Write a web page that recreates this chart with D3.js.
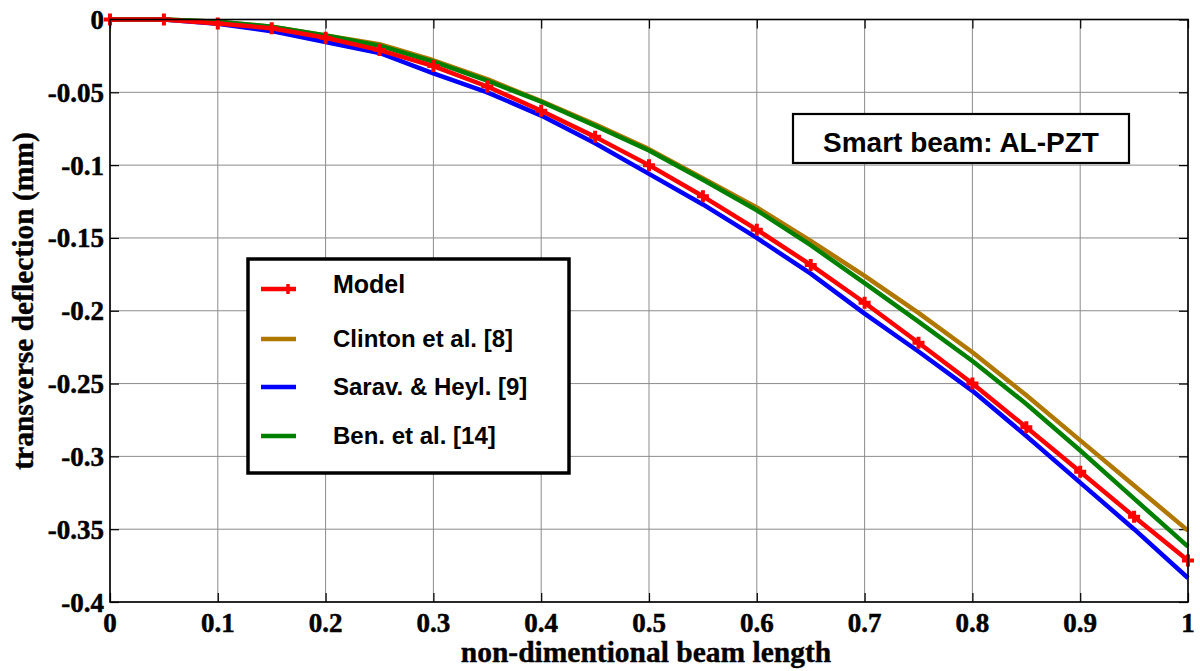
<!DOCTYPE html>
<html>
<head>
<meta charset="utf-8">
<script src="https://cdn.jsdelivr.net/npm/d3@7"></script>
<style>
  html, body { margin: 0; padding: 0; background: #fff; }
  svg { display: block; }
</style>
</head>
<body>
<svg id="chart" width="1200" height="671"></svg>
<script>
// Non-dimensional position along the beam
const beamPos = [0, 0.05, 0.1, 0.15, 0.2, 0.25, 0.3, 0.35, 0.4, 0.45, 0.5,
                 0.55, 0.6, 0.65, 0.7, 0.75, 0.8, 0.85, 0.9, 0.95, 1.0];

// Transverse deflection (mm) for each source
const modelDefl   = [0, 0, -0.0027, -0.006, -0.0125, -0.021, -0.032, -0.046, -0.0627, -0.0806, -0.100,
                     -0.1214, -0.1443, -0.1685, -0.1945, -0.222, -0.250, -0.280, -0.3105, -0.3414, -0.3715];
const clintonDefl = [0, 0, -0.0015, -0.005, -0.011, -0.017, -0.028, -0.041, -0.056, -0.072, -0.089,
                     -0.109, -0.129, -0.152, -0.176, -0.2015, -0.2285, -0.258, -0.289, -0.320, -0.351];
const saravDefl   = [0, 0, -0.003, -0.008, -0.0154, -0.023, -0.037, -0.050, -0.066, -0.085, -0.106,
                     -0.127, -0.150, -0.1745, -0.202, -0.228, -0.2550, -0.286, -0.318, -0.350, -0.3835];
const benDefl     = [0, 0, -0.0015, -0.005, -0.011, -0.018, -0.029, -0.042, -0.0565, -0.073, -0.090,
                     -0.110, -0.131, -0.155, -0.181, -0.2075, -0.2345, -0.264, -0.296, -0.329, -0.362];

const xTicks = [0, 0.1, 0.2, 0.3, 0.4, 0.5, 0.6, 0.7, 0.8, 0.9, 1];
const xTickLabels = ["0", "0.1", "0.2", "0.3", "0.4", "0.5", "0.6", "0.7", "0.8", "0.9", "1"];
const yTicks = [0, -0.05, -0.1, -0.15, -0.2, -0.25, -0.3, -0.35, -0.4];
const yTickLabels = ["0", "-0.05", "-0.1", "-0.15", "-0.2", "-0.25", "-0.3", "-0.35", "-0.4"];

const seriesNames = ["Model", "Clinton et al. [8]", "Sarav. & Heyl. [9]", "Ben. et al. [14]"];
const seriesColors = ["#ff0000", "#b07800", "#0000ff", "#008000"];

const svg = d3.select("#chart");
const plotL = 110, plotR = 1188, plotT = 19.5, plotB = 602;

const x = d3.scaleLinear().domain([0, 1]).range([plotL, plotR]);
const y = d3.scaleLinear().domain([-0.4, 0]).range([plotB, plotT]);

// grid
const grid = svg.append("g").attr("stroke", "#8c8c8c").attr("stroke-width", 1);
xTicks.forEach(t => grid.append("line")
  .attr("x1", x(t)).attr("x2", x(t)).attr("y1", plotT).attr("y2", plotB));
yTicks.forEach(t => grid.append("line")
  .attr("x1", plotL).attr("x2", plotR).attr("y1", y(t)).attr("y2", y(t)));

// inward ticks on all four sides
const tickLen = 9;
const bottomAxis = d3.axisBottom(x).tickValues(xTicks).tickFormat("").tickSizeInner(-tickLen).tickSizeOuter(0);
const topAxis = d3.axisTop(x).tickValues(xTicks).tickFormat("").tickSizeInner(-tickLen).tickSizeOuter(0);
const leftAxis = d3.axisLeft(y).tickValues(yTicks).tickFormat("").tickSizeInner(-tickLen).tickSizeOuter(0);
const rightAxis = d3.axisRight(y).tickValues(yTicks).tickFormat("").tickSizeInner(-tickLen).tickSizeOuter(0);
[[bottomAxis, `translate(0,${plotB})`], [topAxis, `translate(0,${plotT})`],
 [leftAxis, `translate(${plotL},0)`], [rightAxis, `translate(${plotR},0)`]].forEach(([ax, tr]) => {
  const g = svg.append("g").attr("transform", tr).call(ax);
  g.select(".domain").remove();
  g.selectAll(".tick line").attr("stroke", "#000").attr("stroke-width", 1.2);
});

// tick labels
const tickFont = "'Liberation Serif', 'Times New Roman', serif";
svg.append("g").selectAll("text").data(xTicks).join("text")
  .attr("x", d => x(d)).attr("y", 632)
  .attr("text-anchor", "middle")
  .attr("font-family", tickFont).attr("font-weight", "bold").attr("font-size", 27)
  .attr("stroke", "#000").attr("stroke-width", 0.5)
  .text((d, i) => xTickLabels[i]);
svg.append("g").selectAll("text").data(yTicks).join("text")
  .attr("x", 104).attr("y", d => y(d) + 9.5)
  .attr("text-anchor", "end")
  .attr("font-family", tickFont).attr("font-weight", "bold").attr("font-size", 27)
  .attr("stroke", "#000").attr("stroke-width", 0.5)
  .text((d, i) => yTickLabels[i]);

// axis titles
svg.append("text")
  .attr("x", 646).attr("y", 662)
  .attr("text-anchor", "middle")
  .attr("font-family", tickFont).attr("font-weight", "bold").attr("font-size", 29.5)
  .attr("stroke", "#000").attr("stroke-width", 0.4)
  .text("non-dimentional beam length");
svg.append("text")
  .attr("transform", "translate(33,301) rotate(-90)")
  .attr("text-anchor", "middle")
  .attr("font-family", tickFont).attr("font-weight", "bold").attr("font-size", 29.5)
  .attr("stroke", "#000").attr("stroke-width", 0.4)
  .text("transverse deflection (mm)");

// curves
const line = d3.line().x((d, i) => x(beamPos[i])).y(d => y(d));
const plotG = svg.append("g");
const drawOrder = [[clintonDefl, 1], [saravDefl, 2], [benDefl, 3], [modelDefl, 0]];
drawOrder.forEach(([vals, k]) => {
  plotG.append("path").datum(vals)
    .attr("d", line)
    .attr("fill", "none")
    .attr("stroke", seriesColors[k])
    .attr("stroke-width", 4.5)
    .attr("stroke-linejoin", "round");
});

// plus markers for the model
function plusPath(cx, cy, r) {
  return `M${cx - r},${cy}H${cx + r}M${cx},${cy - r}V${cy + r}`;
}
plotG.append("g").selectAll("path").data(modelDefl).join("path")
  .attr("d", (d, i) => plusPath(x(beamPos[i]), y(d), 6))
  .attr("stroke", seriesColors[0]).attr("stroke-width", 4).attr("fill", "none");

// axes box
svg.append("rect")
  .attr("x", plotL).attr("y", plotT).attr("width", plotR - plotL).attr("height", plotB - plotT)
  .attr("fill", "none").attr("stroke", "#000").attr("stroke-width", 1.6);

// legend
const legend = svg.append("g");
legend.append("rect")
  .attr("x", 248).attr("y", 259).attr("width", 321).attr("height", 214)
  .attr("fill", "#fff").attr("stroke", "#000").attr("stroke-width", 3.5);
const legendRows = [289, 339, 387, 436];
seriesNames.forEach((name, k) => {
  const ly = legendRows[k];
  legend.append("line")
    .attr("x1", 261).attr("x2", 296).attr("y1", ly).attr("y2", ly)
    .attr("stroke", seriesColors[k]).attr("stroke-width", 4.5);
  if (k === 0) {
    legend.append("path").attr("d", plusPath(288, ly, 5))
      .attr("stroke", seriesColors[0]).attr("stroke-width", 3.5);
  }
  legend.append("text")
    .attr("x", 333).attr("y", ly + (k === 0 ? 4 : 8))
    .attr("font-family", "'Liberation Sans', Arial, sans-serif")
    .attr("font-weight", "bold").attr("font-size", k === 0 ? 25 : 24)
    .text(name);
});

// annotation box
const note = svg.append("g");
note.append("rect")
  .attr("x", 793).attr("y", 114).attr("width", 336).attr("height", 49)
  .attr("fill", "#fff").attr("stroke", "#000").attr("stroke-width", 2.2);
note.append("text")
  .attr("x", 961).attr("y", 151.5).attr("text-anchor", "middle")
  .attr("font-family", "'Liberation Sans', Arial, sans-serif")
  .attr("font-weight", "bold").attr("font-size", 28)
  .text("Smart beam: AL-PZT");
</script>
</body>
</html>
